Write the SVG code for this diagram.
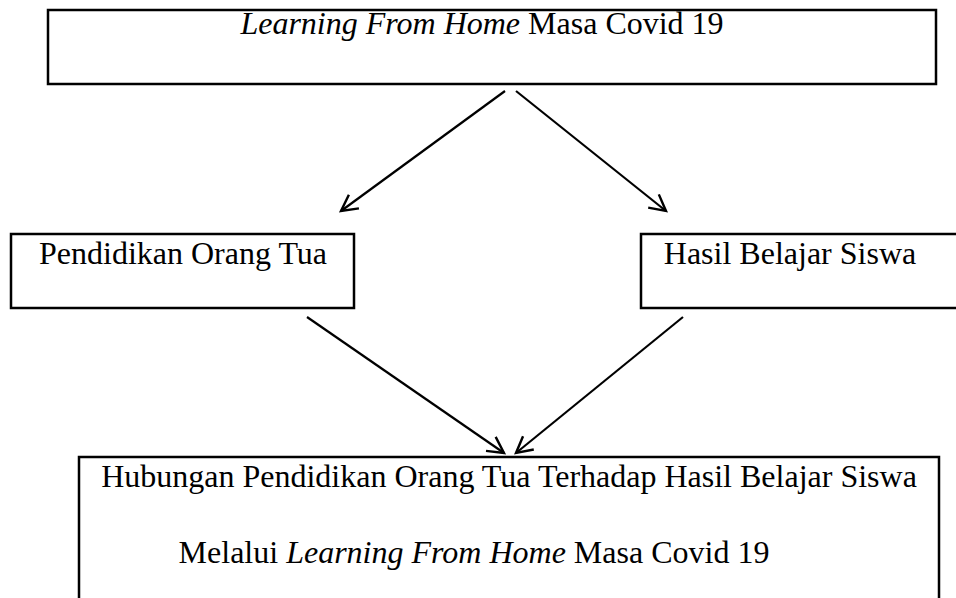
<svg xmlns="http://www.w3.org/2000/svg" width="956" height="598" viewBox="0 0 956 598">
<defs>
<style>
.box{fill:#fff;stroke:#000;stroke-width:2.5}
.t{font-family:"Liberation Serif","Times New Roman",serif;font-size:32px;fill:#000;text-anchor:middle}
.i{font-style:italic}
.c{stroke:#000;stroke-width:2.2;fill:none}
</style>
<marker id="ah" viewBox="0 0 24 24" refX="21" refY="12" markerWidth="24" markerHeight="24" markerUnits="userSpaceOnUse" orient="auto">
<path d="M5 3.5 L21 12 L5 20.5" fill="none" stroke="#000" stroke-width="2.4"/>
</marker>
</defs>
<rect width="956" height="598" fill="#fff"/>
<g id="n-top">
<rect class="box" x="48" y="10" width="888" height="74"/>
<text class="t" x="482" y="34"><tspan class="i">Learning From Home</tspan> Masa Covid 19</text>
</g>
<g id="n-left">
<rect class="box" x="11" y="234" width="343" height="74"/>
<text class="t" x="183" y="264">Pendidikan Orang Tua</text>
</g>
<g id="n-right">
<rect class="box" x="641" y="234" width="330" height="74"/>
<text class="t" x="790" y="264">Hasil Belajar Siswa</text>
</g>
<g id="n-bottom">
<rect class="box" x="79" y="457" width="860" height="160"/>
<text class="t" x="509" y="487">Hubungan Pendidikan Orang Tua Terhadap Hasil Belajar Siswa</text>
<text class="t" x="474" y="563">Melalui <tspan class="i">Learning From Home</tspan> Masa Covid 19</text>
</g>
<g id="connectors">
<line class="c" x1="505" y1="91" x2="341" y2="211" marker-end="url(#ah)"/>
<line class="c" x1="516" y1="91" x2="666" y2="211" marker-end="url(#ah)"/>
<line class="c" x1="307" y1="317" x2="504" y2="453" marker-end="url(#ah)"/>
<line class="c" x1="683" y1="317" x2="516" y2="453" marker-end="url(#ah)"/>
</g>
</svg>
